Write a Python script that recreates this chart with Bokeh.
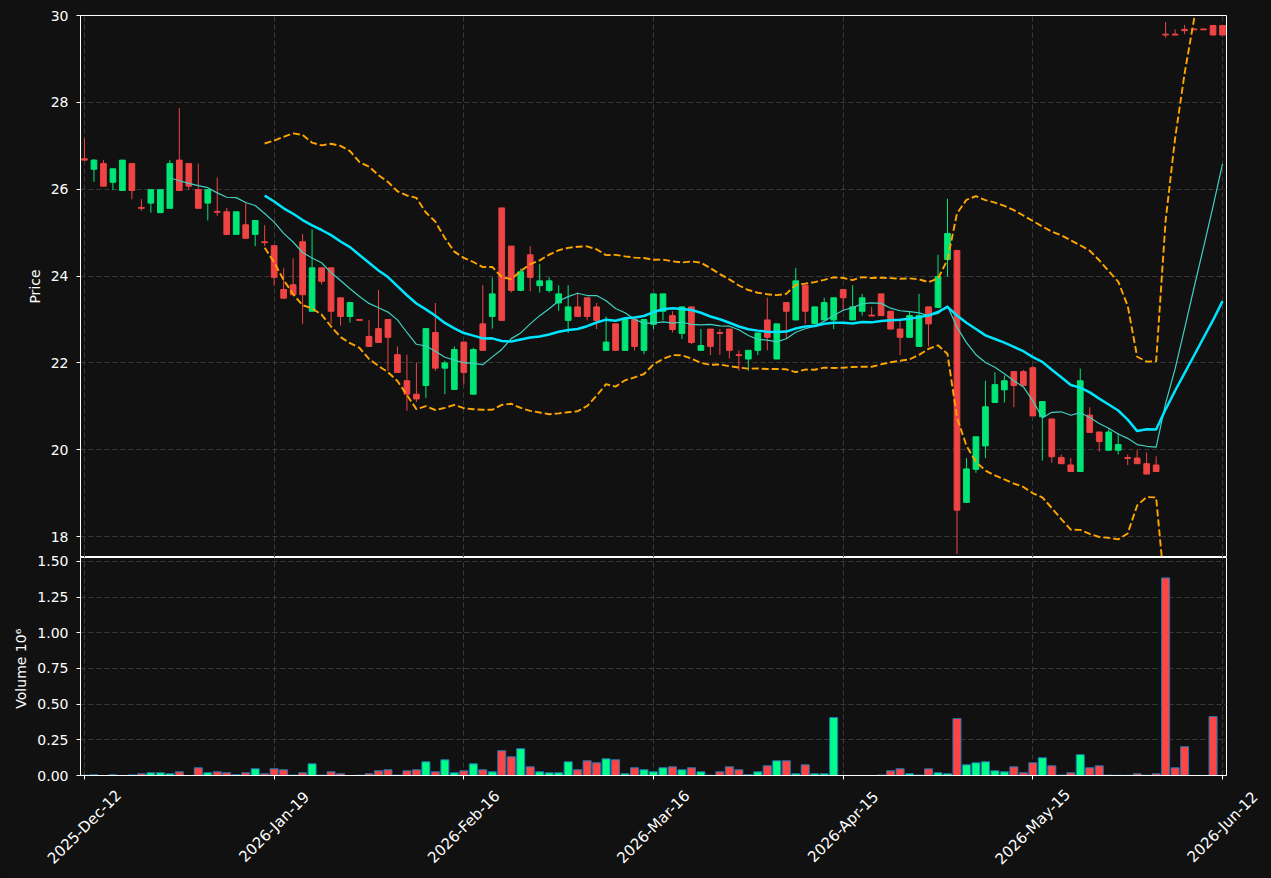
import math
import pandas as pd
from bokeh.plotting import figure
from bokeh.layouts import column
from bokeh.models import Range1d, FixedTicker, PrintfTickFormatter
from bokeh.core.properties import value
from bokeh.embed import file_html
from bokeh.resources import INLINE

# ---------------- data ----------------
opens = [26.70, 26.46, 26.59, 26.16, 25.97, 26.59, 25.58, 25.68, 25.46, 25.56,
         26.67, 26.59, 25.99, 25.68, 25.49, 25.48, 24.96, 25.18, 24.96, 24.79,
         24.70, 23.69, 23.80, 24.79, 23.19, 24.19, 24.19, 23.50, 23.07, 23.00,
         22.61, 22.79, 23.00, 22.19, 21.59, 21.28, 21.48, 22.70, 21.88, 21.39,
         22.48, 21.28, 22.90, 23.07, 25.57, 24.69, 23.67, 24.49, 23.78, 23.67,
         23.38, 22.98, 23.29, 23.50, 23.29, 22.29, 22.90, 22.29, 23.00, 22.29,
         22.89, 23.19, 23.09, 22.68, 23.29, 22.29, 22.78, 22.70, 22.78, 22.19,
         22.09, 22.29, 22.99, 22.09, 23.39, 22.99, 23.79, 22.90, 22.99, 22.99,
         23.69, 22.99, 23.19, 23.10, 23.59, 23.19, 22.78, 22.59, 22.38, 23.29,
         23.28, 24.38, 24.59, 18.79, 19.55, 20.09, 21.09, 21.38, 21.80, 21.80,
         21.89, 20.76, 20.71, 19.82, 19.65, 19.50, 20.80, 20.41, 19.99, 19.99,
         19.82, 19.81, 19.68, 19.65, 29.57, 29.57, 29.68, 29.69, 29.69, 29.77,
         29.77]
highs = [27.17, 26.69, 26.67, 26.47, 26.67, 26.59, 25.77, 25.99, 25.99, 26.67,
         27.87, 26.59, 26.59, 25.99, 26.27, 25.57, 25.48, 25.68, 25.28, 25.17,
         24.70, 24.18, 24.41, 24.97, 25.08, 24.19, 24.19, 23.50, 23.39, 23.00,
         22.99, 23.68, 23.00, 22.38, 22.19, 22.00, 22.79, 23.38, 22.05, 22.38,
         22.48, 22.35, 23.79, 23.97, 25.57, 24.69, 24.17, 24.69, 24.28, 23.97,
         23.79, 23.79, 23.62, 23.50, 23.38, 23.07, 22.90, 23.00, 23.00, 23.00,
         23.59, 23.59, 23.19, 23.29, 23.29, 22.78, 22.78, 22.78, 22.78, 22.29,
         22.29, 22.69, 23.50, 22.90, 23.39, 24.19, 23.79, 23.29, 23.50, 23.50,
         23.69, 23.79, 23.59, 23.29, 23.59, 23.19, 22.99, 23.19, 23.59, 23.29,
         24.49, 25.78, 24.59, 19.81, 20.30, 21.59, 21.79, 21.71, 21.80, 21.84,
         21.93, 21.11, 20.71, 19.89, 19.81, 21.87, 20.98, 20.41, 20.49, 20.38,
         19.89, 19.99, 19.94, 19.85, 29.85, 29.68, 29.78, 29.69, 29.69, 29.77,
         29.77]
lows = [26.65, 26.17, 26.07, 25.98, 25.97, 25.77, 25.50, 25.46, 25.46, 25.56,
        25.97, 25.98, 25.56, 25.28, 25.39, 24.96, 24.96, 24.87, 24.69, 24.69,
        23.78, 23.49, 23.57, 22.90, 23.19, 23.81, 22.90, 22.86, 22.93, 22.98,
        22.38, 22.47, 21.82, 21.78, 20.90, 21.10, 21.19, 21.82, 21.28, 21.39,
        21.50, 21.28, 22.29, 22.79, 22.98, 23.62, 23.65, 23.65, 23.62, 23.62,
        23.20, 22.69, 23.07, 22.98, 22.78, 22.29, 22.29, 22.29, 22.29, 22.20,
        22.78, 22.98, 22.70, 22.55, 22.43, 22.29, 22.18, 22.18, 22.10, 21.82,
        21.82, 22.18, 22.29, 22.09, 22.55, 22.99, 22.90, 22.90, 22.99, 22.78,
        23.19, 22.99, 23.09, 23.08, 23.09, 22.78, 22.18, 22.59, 22.38, 22.38,
        23.28, 23.99, 17.60, 18.79, 19.47, 19.81, 21.09, 21.09, 20.98, 21.48,
        20.78, 19.75, 19.70, 19.68, 19.50, 19.50, 20.40, 19.96, 19.99, 19.89,
        19.65, 19.68, 19.44, 19.50, 29.49, 29.55, 29.57, 29.67, 29.67, 29.55,
        29.55]
closes = [26.67, 26.67, 26.07, 26.47, 26.67, 25.97, 25.56, 25.99, 25.99, 26.59,
          25.97, 26.07, 25.56, 25.99, 25.47, 24.96, 25.48, 24.87, 25.28, 24.77,
          23.97, 23.49, 23.57, 23.57, 24.19, 23.88, 23.19, 23.07, 23.39, 22.98,
          22.38, 22.47, 22.59, 21.78, 21.28, 21.17, 22.79, 21.88, 22.00, 22.31,
          21.78, 22.31, 22.29, 23.59, 22.98, 23.67, 24.10, 23.97, 23.89, 23.89,
          23.59, 23.29, 23.07, 23.07, 22.98, 22.48, 22.29, 23.00, 22.38, 23.00,
          23.59, 23.59, 22.77, 23.29, 22.47, 22.40, 22.38, 22.68, 22.29, 22.17,
          22.29, 22.69, 22.59, 22.90, 23.19, 23.89, 23.19, 23.29, 23.39, 23.50,
          23.50, 23.29, 23.50, 23.08, 23.09, 22.78, 22.59, 23.09, 23.09, 22.90,
          23.99, 24.98, 18.61, 19.56, 20.30, 20.99, 21.50, 21.59, 21.48, 21.48,
          20.78, 21.11, 19.84, 19.68, 19.50, 21.59, 20.40, 20.19, 20.41, 20.12,
          19.80, 19.68, 19.44, 19.50, 29.55, 29.55, 29.65, 29.67, 29.67, 29.55,
          29.55]
# volume in units of 10^6
volumes = [0.002, 0.005, 0.0, 0.005, 0.0, 0.004, 0.012, 0.019, 0.019, 0.012,
           0.026, 0.0, 0.054, 0.019, 0.026, 0.019, 0.005, 0.019, 0.047, 0.012,
           0.047, 0.040, 0.003, 0.019, 0.082, 0.003, 0.026, 0.012, 0.0, 0.002,
           0.012, 0.033, 0.040, 0.003, 0.033, 0.040, 0.096, 0.026, 0.110, 0.019,
           0.033, 0.082, 0.040, 0.026, 0.174, 0.131, 0.188, 0.061, 0.026, 0.019,
           0.019, 0.096, 0.040, 0.103, 0.089, 0.117, 0.110, 0.012, 0.054, 0.040,
           0.026, 0.054, 0.061, 0.040, 0.054, 0.026, 0.002, 0.026, 0.061, 0.040,
           0.005, 0.026, 0.068, 0.103, 0.103, 0.012, 0.075, 0.012, 0.012, 0.406,
           0.0, 0.0, 0.0, 0.0, 0.003, 0.033, 0.047, 0.012, 0.003, 0.047,
           0.019, 0.012, 0.399, 0.075, 0.089, 0.096, 0.033, 0.026, 0.061, 0.019,
           0.089, 0.124, 0.068, 0.003, 0.019, 0.146, 0.054, 0.068, 0.003, 0.002,
           0.002, 0.012, 0.002, 0.012, 1.385, 0.054, 0.202, 0.0, 0.0, 0.413,
           0.0]
tick_idx = [0, 20, 40, 60, 80, 100, 120]
tick_labels = ["2025-Dec-12", "2026-Jan-19", "2026-Feb-16", "2026-Mar-16",
               "2026-Apr-15", "2026-May-15", "2026-Jun-12"]
price_ticks = [18, 20, 22, 24, 26, 28, 30]
volume_ticks = [0.0, 0.25, 0.5, 0.75, 1.0, 1.25, 1.5]

# ---------------- derived indicators ----------------
n = len(closes)
idx = list(range(n))
cs = pd.Series(closes)
sma10 = cs.rolling(10).mean()
sma20 = cs.rolling(20).mean()
std20 = cs.rolling(20).std()
bb_up = sma20 + 2 * std20
bb_lo = sma20 - 2 * std20

UP, DN = "#00e676", "#ef4444"
VUP, VDN = "#00ff88", "#ff4444"
inc = [c >= o for o, c in zip(opens, closes)]
ccol = [UP if k else DN for k in inc]
vcol = [VUP if k else VDN for k in inc]
body_top = [max(o, c) for o, c in zip(opens, closes)]
body_bot = [min(o, c) for o, c in zip(opens, closes)]

BG = "#111111"
GRID = "#3a3a3a"
FONT = "DejaVu Sans"
FS = "14px"

W, H = 1271, 878
LEFT, RIGHT = 80, 45
P1_H = 557            # price figure height (frame bottom at 557)
VOL_FRAME = 218       # volume frame height
OVERLAP = 10          # top strip of the volume figure laid over the price figure
VOL_BOTTOM = 12       # space below the volume frame for ticks / bottom label


def style(p):
    p.background_fill_color = BG
    p.border_fill_color = BG
    p.outline_line_color = "white"
    p.outline_line_width = 1
    for ax in p.axis:
        ax.axis_line_color = "white"
        ax.major_tick_line_color = "white"
        ax.minor_tick_line_color = None
        ax.major_tick_out = 4
        ax.major_tick_in = 0
        ax.major_label_text_color = "white"
        ax.major_label_text_font = FONT
        ax.major_label_text_font_size = FS
        ax.axis_label_text_color = "white"
        ax.axis_label_text_font = FONT
        ax.axis_label_text_font_size = FS
        ax.axis_label_text_font_style = "normal"
    p.grid.grid_line_color = GRID
    p.grid.grid_line_dash = "5 3"
    p.grid.grid_line_width = 1


xr = Range1d(-0.42, 120.42)

# ---------------- price panel ----------------
p1 = figure(width=W, height=P1_H, x_range=xr, y_range=Range1d(17.52, 30.0),
            output_backend="svg", toolbar_location=None,
            min_border_left=LEFT, min_border_right=RIGHT, min_border_top=15,
            min_border_bottom=0)
style(p1)
p1.xaxis.visible = False
p1.xgrid.ticker = FixedTicker(ticks=tick_idx)
p1.yaxis.ticker = FixedTicker(ticks=price_ticks)
p1.ygrid.ticker = FixedTicker(ticks=price_ticks)
p1.yaxis.axis_label = "Price"
p1.yaxis.major_label_standoff = 8

p1.segment(x0=idx, y0=lows, x1=idx, y1=highs, line_color=ccol, line_width=1)
p1.vbar(x=idx, top=body_top, bottom=body_bot, width=0.6,
        fill_color=ccol, line_color=ccol, line_width=1)
p1.line(idx, bb_up.tolist(), line_color="#ffa500", line_width=1.9, line_dash="7 3")
p1.line(idx, bb_lo.tolist(), line_color="#ffa500", line_width=1.9, line_dash="7 3")
p1.line(idx, sma10.tolist(), line_color="#40d0c0", line_width=1.2)
p1.line(idx, sma20.tolist(), line_color="#00e5ff", line_width=2.5)

# ---------------- volume panel ----------------
p2 = figure(width=W, height=OVERLAP + VOL_FRAME + VOL_BOTTOM, x_range=xr,
            y_range=Range1d(0, 1.528),
            output_backend="svg", toolbar_location=None,
            min_border_left=LEFT, min_border_right=RIGHT, min_border_top=OVERLAP,
            min_border_bottom=VOL_BOTTOM)
style(p2)
p2.border_fill_alpha = 0
p2.margin = (-OVERLAP, 0, 0, 0)
p2.xaxis.ticker = FixedTicker(ticks=tick_idx)
p2.xaxis.major_label_overrides = {i: "" for i in tick_idx}
p2.xgrid.ticker = FixedTicker(ticks=tick_idx)
p2.yaxis.ticker = FixedTicker(ticks=volume_ticks)
p2.ygrid.ticker = FixedTicker(ticks=volume_ticks)
p2.yaxis.formatter = PrintfTickFormatter(format="%.2f")
p2.yaxis.axis_label = "Volume  10\u2076"
p2.yaxis.major_label_standoff = 8

p2.vbar(x=idx, top=volumes, width=0.85, fill_color=vcol,
        line_color="#1f77b4", line_width=1)

# ---------------- rotated date labels strip (full-width frame) ----------------
px_per_unit = (W - LEFT - RIGHT) / (xr.end - xr.start)
xr3 = Range1d(xr.start - LEFT / px_per_unit, xr.end + RIGHT / px_per_unit)
H3 = H - P1_H - VOL_FRAME - VOL_BOTTOM
p3 = figure(width=W, height=H3, x_range=xr3, y_range=Range1d(0, H3),
            x_axis_type=None, y_axis_type=None, output_backend="svg",
            toolbar_location=None, min_border=0, outline_line_color=None,
            background_fill_color=BG, border_fill_color=BG)
p3.frame_align = False
label_center_below_axis = 51.5
y_lab = H3 - (label_center_below_axis - VOL_BOTTOM)
p3.text(x=tick_idx, y=[y_lab] * len(tick_idx), text=tick_labels,
        angle=math.pi / 4, text_align="center", text_baseline="middle",
        text_color="white", text_font=value(FONT), text_font_size=value("15px"))

layout = column(p1, p2, p3, spacing=0, styles={"background-color": BG})
open("out.html", "w").write(file_html(layout, INLINE))
